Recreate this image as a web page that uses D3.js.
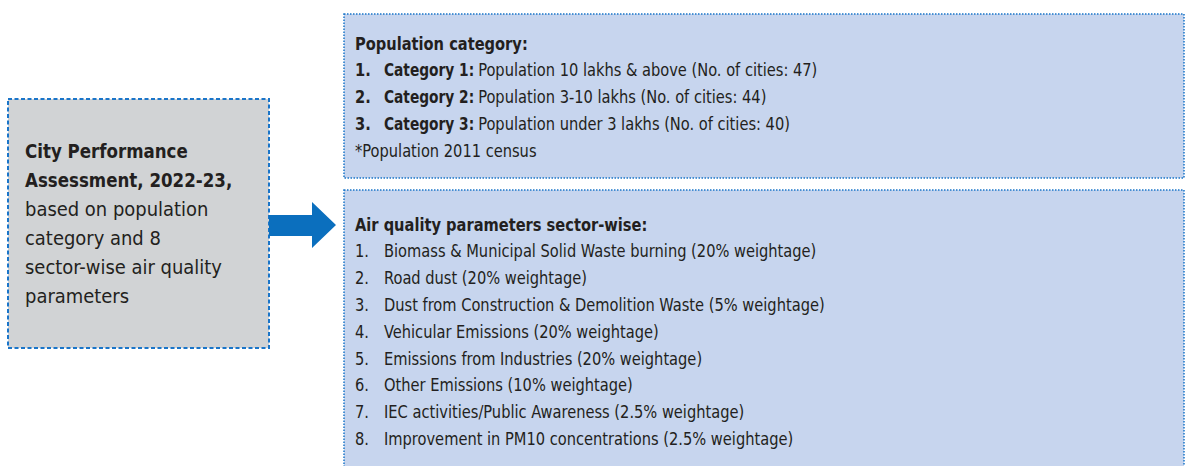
<!DOCTYPE html>
<html>
<head>
<meta charset="utf-8">
<script src="https://cdn.jsdelivr.net/npm/d3@7"></script>
<style>
  body { margin: 0; background: #fff; }
  svg text { font-family: "Liberation Sans Narrow", "DejaVu Sans Condensed", "Roboto", sans-serif; fill: #231f20; }
</style>
</head>
<body>
<div id="chart"></div>
<script>
// text content
var leftBold = ["City Performance", "Assessment, 2022-23,"];
var leftPlain = ["based on population", "category and 8", "sector-wise air quality", "parameters"];

var popHeading = "Population category:";
var popCategories = ["Category 1:", "Category 2:", "Category 3:"];
var popRanges = ["Population 10 lakhs & above", "Population 3-10 lakhs", "Population under 3 lakhs"];
var popCities = [47, 44, 40];
var popNote = "*Population 2011 census";

var aqHeading = "Air quality parameters sector-wise:";
var sectors = [
    "Biomass & Municipal Solid Waste burning",
    "Road dust",
    "Dust from Construction & Demolition Waste",
    "Vehicular Emissions",
    "Emissions from Industries",
    "Other Emissions",
    "IEC activities/Public Awareness",
    "Improvement in PM10 concentrations"
];
var weightages = [20, 20, 5, 20, 20, 10, 2.5, 2.5];

var width = 1185, height = 466;
var blue = "#1a75c9";

var svg = d3.select("#chart").append("svg")
    .attr("width", width)
    .attr("height", height);

// helper: place text with a slight horizontal squeeze/stretch
function place(x, y, sx) {
    return "translate(" + x + "," + y + ") scale(" + sx + ",1)";
}

// left grey box
svg.append("rect")
    .attr("x", 8).attr("y", 99)
    .attr("width", 261).attr("height", 249)
    .attr("fill", "#d1d3d5")
    .attr("stroke", blue)
    .attr("stroke-width", 2)
    .attr("stroke-dasharray", "4,2.5");

var leftLines = leftBold.map(function(t) { return {t: t, bold: true}; })
    .concat(leftPlain.map(function(t) { return {t: t, bold: false}; }));

var yLeft = d3.scaleLinear().domain([0, leftLines.length - 1]).range([158, 303]);

svg.append("g").selectAll("text")
    .data(leftLines)
    .enter().append("text")
        .attr("transform", function(d, i) { return place(25, yLeft(i), d.bold ? 0.975 : 1.05); })
        .attr("font-size", 19)
        .attr("font-weight", function(d) { return d.bold ? "bold" : "normal"; })
        .text(function(d) { return d.t; });

// arrow
svg.append("path")
    .attr("d", "M269,215 L312,215 L312,202 L336,225 L312,248 L312,236 L269,236 Z")
    .attr("fill", "#0b6fbe");

// right boxes
var boxes = [
    {y: 14, h: 164},
    {y: 190, h: 290}
];
svg.append("g").selectAll("rect")
    .data(boxes)
    .enter().append("rect")
        .attr("x", 344)
        .attr("y", function(d) { return d.y; })
        .attr("width", 840)
        .attr("height", function(d) { return d.h; })
        .attr("fill", "#c7d5ee")
        .attr("stroke", blue)
        .attr("stroke-width", 1.5)
        .attr("stroke-dasharray", "1.5,1.5");

var fs = 17;
var sx = 0.958;
var sxBold = 0.9;
var step = 26.8;
var xNum = 355, xText = 384;

// population box
var gPop = svg.append("g");
var yPop = d3.scaleLinear().domain([0, 1]).range([49.5, 49.5 + step]);

gPop.append("text")
    .attr("transform", place(xNum, yPop(0), sx))
    .attr("font-size", fs).attr("font-weight", "bold")
    .text(popHeading);

var popRows = gPop.selectAll("g.row")
    .data(popCategories)
    .enter().append("g").attr("class", "row");

popRows.append("text")
    .attr("transform", function(d, i) { return place(xNum, yPop(i + 1), sx); })
    .attr("font-size", fs).attr("font-weight", "bold")
    .text(function(d, i) { return (i + 1) + "."; });

popRows.each(function(d, i) {
    var row = d3.select(this);
    var b = row.append("text")
        .attr("transform", place(xText, yPop(i + 1), sxBold))
        .attr("font-size", fs).attr("font-weight", "bold")
        .text(d);
    var bw = b.node().getComputedTextLength() * sxBold;
    row.append("text")
        .attr("transform", place(xText + bw + 4, yPop(i + 1), sx))
        .attr("font-size", fs)
        .text(popRanges[i] + " (No. of cities: " + popCities[i] + ")");
});

gPop.append("text")
    .attr("transform", place(xNum, yPop(popCategories.length + 1), sx))
    .attr("font-size", fs)
    .text(popNote);

// air quality box
var gAq = svg.append("g");
var yAq = d3.scaleLinear().domain([0, 1]).range([230.5, 230.5 + step]);

gAq.append("text")
    .attr("transform", place(xNum, yAq(0), sx))
    .attr("font-size", fs).attr("font-weight", "bold")
    .text(aqHeading);

var aqRows = gAq.selectAll("g.row")
    .data(sectors)
    .enter().append("g").attr("class", "row");

aqRows.append("text")
    .attr("transform", function(d, i) { return place(xNum, yAq(i + 1), sx); })
    .attr("font-size", fs)
    .text(function(d, i) { return (i + 1) + "."; });

aqRows.append("text")
    .attr("transform", function(d, i) { return place(xText, yAq(i + 1), sx); })
    .attr("font-size", fs)
    .text(function(d, i) { return d + " (" + weightages[i] + "% weightage)"; });
</script>
</body>
</html>
